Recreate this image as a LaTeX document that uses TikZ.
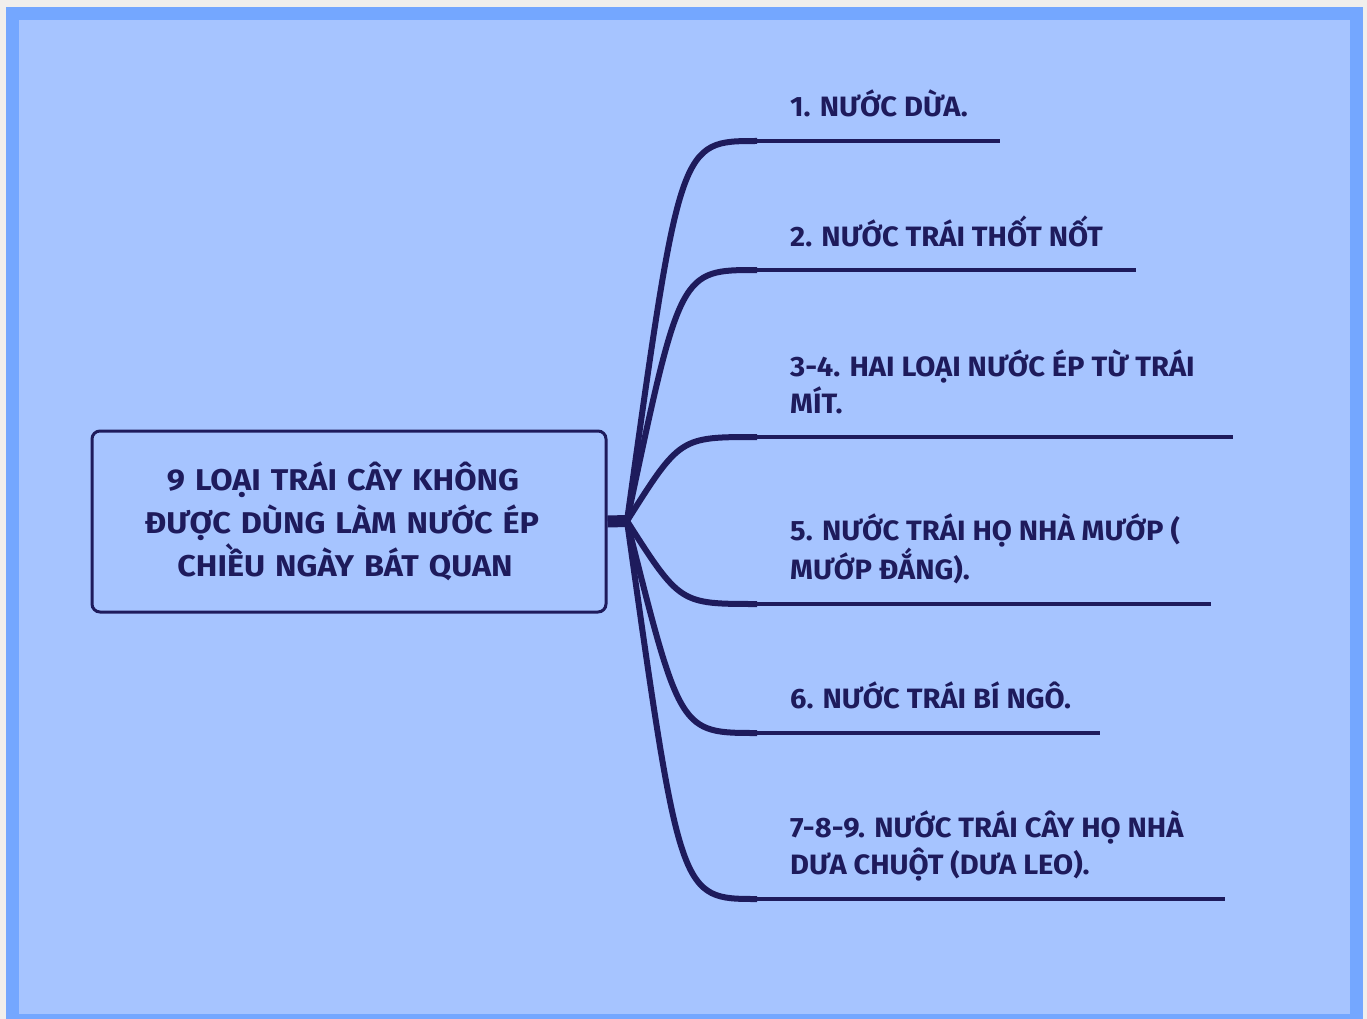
\documentclass[tikz,border=0pt]{standalone}
\usepackage{fontspec}
\setmainfont{Fira Sans}
\newfontfamily\topicfont{Fira Sans}[FakeStretch=1.08]
\newfontfamily\leaffont{Fira Sans}[FakeStretch=1.04]
\usetikzlibrary{positioning,calc}
\definecolor{navy}{HTML}{1E1B5C}
\definecolor{paper}{HTML}{A6C4FF}
\definecolor{frame}{HTML}{74A7FF}
\definecolor{outside}{HTML}{F1EFEC}
\tikzset{
    x=1pt,
    y=-1pt,
    topic/.style = {
        draw=navy,
        shape=rectangle,
        rounded corners=8pt,
        line width=3pt,
        minimum width=514pt,
        minimum height=181pt,
        text width=500pt,
        align=center,
        text=navy,
        font=\topicfont\bfseries\fontsize{30}{43}\selectfont
    },
    leaf/.style = {
        anchor=south west,
        inner sep=0pt,
        text depth=0pt,
        align=left,
        text=navy,
        font=\leaffont\bfseries\fontsize{28}{37}\selectfont
    },
    branch/.style = {
        draw=navy,
        line width=6pt
    },
    stem/.style = {
        draw=navy,
        line width=4.5pt
    },
}
\begin{document}
\begin{tikzpicture}
    \useasboundingbox (0,0) rectangle (1367,1019);
    \fill[outside] (0,0) rectangle (1367,1019);
    \fill[frame] (6,7) rectangle (1363,1019);
    \fill[paper] (19,20) rectangle (1350,1014);

    \node[topic] (root) at (349,521.5) {9 LOẠI TRÁI CÂY KHÔNG\rule{12pt}{0pt}\\ĐƯỢC DÙNG LÀM NƯỚC ÉP\rule{14pt}{0pt}\\CHIỀU NGÀY BÁT QUAN\rule{8pt}{0pt}};
    \coordinate (hub) at (627,521);

    \coordinate (s1) at (757,141);  \coordinate (e1) at (1000,141);
    \coordinate (s2) at (757,270);  \coordinate (e2) at (1136,270);
    \coordinate (s3) at (757,437);  \coordinate (e3) at (1233,437);
    \coordinate (s5) at (757,604);  \coordinate (e5) at (1211,604);
    \coordinate (s6) at (757,733);  \coordinate (e6) at (1100,733);
    \coordinate (s7) at (757,899);  \coordinate (e7) at (1225,899);

    \node[leaf] (l1) at (790,117) {1. NƯỚC DỪA.};
    \node[leaf] (l2) at (790,247) {2. NƯỚC TRÁI THỐT NỐT};
    \node[leaf] (l3) at (790,414) {3-4. HAI LOẠI NƯỚC ÉP TỪ TRÁI\\MÍT.};
    \node[leaf] (l5) at (790,580) {5. NƯỚC TRÁI HỌ NHÀ MƯỚP (\\MƯỚP ĐẮNG).};
    \node[leaf] (l6) at (790,709) {6. NƯỚC TRÁI BÍ NGÔ.};
    \node[leaf] (l7) at (790,875) {7-8-9. NƯỚC TRÁI CÂY HỌ NHÀ\\DƯA CHUỘT (DƯA LEO).};

    \path[draw=navy, line width=12pt] (root.east) -- (hub);

    \path[branch] (hub) .. controls ($(hub |- s1)+(53,0)$) and ($(hub |- s1)+(53,0)$) .. (s1);
    \path[branch] (hub) .. controls ($(hub |- s2)+(53,0)$) and ($(hub |- s2)+(53,0)$) .. (s2);
    \path[branch] (hub) .. controls ($(hub |- s3)+(53,0)$) and ($(hub |- s3)+(53,0)$) .. (s3);
    \path[branch] (hub) .. controls ($(hub |- s5)+(53,0)$) and ($(hub |- s5)+(53,0)$) .. (s5);
    \path[branch] (hub) .. controls ($(hub |- s6)+(53,0)$) and ($(hub |- s6)+(53,0)$) .. (s6);
    \path[branch] (hub) .. controls ($(hub |- s7)+(53,0)$) and ($(hub |- s7)+(53,0)$) .. (s7);

    \path[stem] (s1) -- (e1);
    \path[stem] (s2) -- (e2);
    \path[stem] (s3) -- (e3);
    \path[stem] (s5) -- (e5);
    \path[stem] (s6) -- (e6);
    \path[stem] (s7) -- (e7);
\end{tikzpicture}
\end{document}
